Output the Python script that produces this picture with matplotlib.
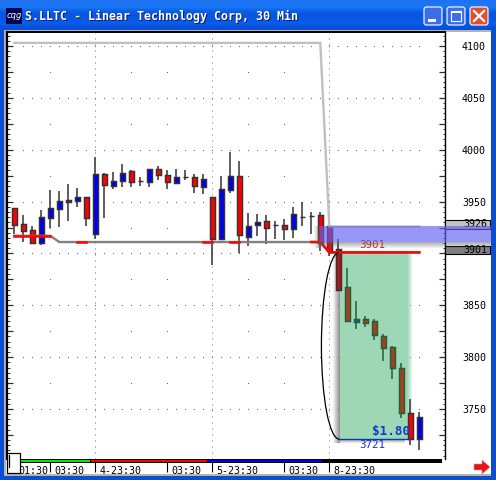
# -*- coding: utf-8 -*-
# S.LLTC 30 min candles inside an old trading platform window
import numpy as np
import matplotlib
matplotlib.use("Agg")
import matplotlib.pyplot as plt
from matplotlib.patches import Rectangle, FancyBboxPatch, Polygon, Arc

# candles
open_ = [3943.5, 3928, 3923, 3910, 3934, 3943, 3952, 3951, 3954, 3919, 3977, 3965, 3970, 3979, 3970, 3969,
         3981, 3976, 3968, 3974, 3974, 3964, 3954, 3914, 3961, 3975, 3916, 3927, 3931, 3927, 3927, 3924,
         3935, 3936, 3937, 3926, 3904, 3868, 3834, 3837, 3834.5, 3820, 3809.5, 3790, 3746, 3721]
close = [3927.7, 3922, 3910, 3935, 3943.5, 3951, 3950, 3954, 3934, 3977, 3966, 3969.5, 3978, 3969, 3970, 3981,
         3976, 3969, 3974, 3974, 3965, 3971.5, 3914, 3962, 3975, 3918, 3926, 3930, 3925, 3927, 3924, 3938,
         3935, 3936, 3910, 3902, 3865, 3835, 3837, 3833, 3821, 3808.5, 3790, 3746, 3721, 3742]
high = [3943.5, 3937, 3926, 3942, 3961, 3960, 3967, 3963, 3954, 3993, 3978, 3978.5, 3986, 3980, 3974, 3981,
        3984, 3980, 3981, 3980.5, 3977, 3977, 3954, 3975, 3998, 3989, 3939, 3938, 3937, 3931, 3933, 3945,
        3950, 3940, 3940, 3926, 3914, 3886, 3854, 3840, 3837, 3822, 3811, 3794, 3760, 3747]
low = [3918.7, 3911, 3909, 3908, 3925, 3925.5, 3931, 3945, 3926, 3914, 3934, 3962, 3964, 3964, 3965, 3964,
       3971, 3962, 3968, 3971, 3958, 3957, 3889, 3914, 3958.5, 3900, 3907, 3917, 3909, 3914, 3913, 3915,
       3926, 3919, 3902, 3897.5, 3865, 3834, 3827, 3829, 3816.5, 3796.5, 3779, 3741, 3715, 3710]

# step lines above and below the price
upper_line = [4103] * 35 + [3926] * 11
lower_line = [3917] * 5 + [3911] * 30 + [3901] * 11
red_stretches = [(0, 4), (7, 8), (21, 22), (24, 25), (33, 45)]

# axis labels
price_ticks = [3750, 3800, 3850, 3950, 4000, 4050, 4100]
dotted_rows = [3750, 3800, 3850, 3900, 3950, 4000, 4050, 4100]
time_ticks = [0, 4, 9, 17, 22, 30, 35]
time_labels = ["01:30", "03:30", "4-23:30", "03:30", "5-23:30", "03:30", "8-23:30"]
session_edges = [0.63, 8.5, 21.5, 34.3, 47.5]
session_colors = ["#00ee00", "#ff0000", "#0000ee", "#000000"]
sparse_dots = [4, 13, 17, 26, 30]

# levels of the trade box
box_top = 3901
box_bottom = 3721
band_top = 3926
band_bottom = 3911
profit_text = "$1.80"

mono = "DejaVu Sans Mono"
px = 1 / 9.0  # one pixel in candle units

fig = plt.figure(figsize=(4.96, 4.80), dpi=100, facecolor="#0a4ed6")


def pixel_axes(zorder):
    a = fig.add_axes([0, 0, 1, 1], zorder=zorder)
    a.set_xlim(0, 496)
    a.set_ylim(480, 0)
    a.axis("off")
    a.patch.set_alpha(0)
    return a


# window behind the chart
back = pixel_axes(0)
grad = np.array([[0.12, 0.45, 0.95], [0.10, 0.48, 0.97], [0.05, 0.38, 0.90], [0.03, 0.33, 0.88],
                 [0.04, 0.35, 0.90], [0.04, 0.36, 0.92], [0.03, 0.31, 0.85]]).reshape(-1, 1, 3)
back.imshow(grad, extent=(0, 496, 30, 0), aspect="auto", interpolation="bilinear")
back.set_xlim(0, 496)
back.set_ylim(480, 0)
back.add_patch(Rectangle((4, 30), 487, 446, color="#b8b4a8", lw=0))
back.add_patch(Rectangle((6, 32), 485, 442, color="white", lw=0))

# icon and title
back.add_patch(Rectangle((6, 8), 16, 16, color="#000050", lw=0))
back.text(14, 15.5, "cqg", color="white", fontsize=6, style="italic", ha="center", va="center")
title = "S.LLTC - Linear Technology Corp, 30 Min"
back.text(26, 17.5, title, color="#08205c", fontsize=8.4, family=mono, weight="bold", va="center")
back.text(25, 16.5, title, color="white", fontsize=8.4, family=mono, weight="bold", va="center")

# window buttons
for x0, col in [(423, "#3a6eea"), (446, "#3a6eea"), (469, "#e0502c")]:
    back.add_patch(FancyBboxPatch((x0 + 1, 7), 18, 18, boxstyle="round,pad=0,rounding_size=2.5",
                                  fc=col, ec="white", lw=0.8))
back.add_patch(Rectangle((428, 19), 8, 3, color="white", lw=0))
back.add_patch(Rectangle((451, 11), 10, 10, fc="none", ec="white", lw=0.8))
back.add_patch(Rectangle((451, 11), 10, 2, color="white", lw=0))
back.plot([474, 484], [11, 21], color="white", lw=1.6)
back.plot([484, 474], [11, 21], color="white", lw=1.6)

# main chart, x is the candle number and y the price
ax = fig.add_axes([7 / 496, 1 - 459 / 480, 437.5 / 496, 427 / 480], zorder=1)
ax.set_xlim(-0.81, 47.8)
ax.set_ylim(3701.8, 4113.5)
x = np.arange(len(open_))

# dotted grid
for t in [9, 22, 35]:
    ax.axvline(t, color="#707070", lw=0.72, ls=(0, (1, 5)), zorder=1)
for p in dotted_rows:
    ax.plot(x[1:], [p] * (len(x) - 1), ls="none", marker="s", ms=0.8, mew=0, color="#707070", zorder=1)
for p in [3775, 3825, 3875, 3925, 3975, 4025, 4075]:
    ax.plot(sparse_dots, [p] * len(sparse_dots), ls="none", marker="s", ms=0.8, mew=0, color="#707070", zorder=1)

# green box with soft edges
ax.add_patch(Rectangle((36.2, box_bottom), 7.4, box_top - box_bottom, color="#9ed7b6", lw=0, zorder=2))
for i in range(5):
    ax.add_patch(Rectangle((43.6 + i * px, box_bottom), px, box_top - box_bottom, color="#9ed7b6",
                           alpha=1 - i * 0.18, lw=0, zorder=2))
for i in range(7):
    ax.add_patch(Rectangle((35.4 + i * px, box_bottom - 4), px, box_top - box_bottom + 4, color="#707070",
                           alpha=0.08 + i * 0.11, lw=0, zorder=2))
for i in range(4):
    ax.add_patch(Rectangle((36.2, box_bottom - 1 - i), 7.2, 1, color="#707070", alpha=0.6 - i * 0.14,
                           lw=0, zorder=2))

# candles
for i in x:
    in_box = 37 <= i <= 43
    if close[i] == open_[i]:
        body = "#333333"
    elif close[i] > open_[i]:
        body = "#1a5a9a" if in_box else "#0000f0"
    elif in_box:
        body = "#a2401e"
    elif i == 36:
        body = "#b01414"
    else:
        body = "#ff0000"
    edge = "#20603c" if in_box else "#333333"
    ax.vlines(i, low[i], high[i], color=edge, lw=1.1, zorder=3)
    ax.bar(i, close[i] - open_[i], bottom=open_[i], width=0.5, color=body, edgecolor=edge, lw=1.05, zorder=4)

# upper and lower lines
ax.plot(x, upper_line, color="#c0c0c0", lw=1.7, zorder=5, solid_joinstyle="miter")
ax.plot(x, lower_line, color="#808080", lw=1.7, zorder=5, solid_joinstyle="miter")
for a, b in red_stretches:
    ax.plot(x[a:b + 1], lower_line[a:b + 1], color="#ff0000", lw=1.8, zorder=6, solid_joinstyle="miter")

# blue line, curve and texts of the trade box
ax.hlines(box_bottom, 36, 44, color="#0a3aa8", lw=1.0, zorder=6)
ax.add_patch(Arc((36.1, (box_top + box_bottom) / 2), 3.95, box_top - box_bottom, theta1=90, theta2=270,
                 color="black", lw=0.9, zorder=6))
ax.text(39.8, 3908, str(box_top), color="#d82020", fontsize=7.8, family=mono, ha="center", va="center", zorder=7)
ax.text(39.8, 3715, str(box_bottom), color="#1c30e0", fontsize=7.8, family=mono, ha="center", va="center", zorder=7)
ax.text(44.0, 3728, profit_text, color="#1040c8", fontsize=9.1, family=mono, weight="bold",
        ha="right", va="center", zorder=7)

# axis look
ax.set_yticks(range(3725, 4101, 25))
ax.set_yticklabels([str(v) if v in price_ticks else "" for v in range(3725, 4101, 25)], family=mono, fontsize=7.2)
ax.set_yticks(range(3705, 4111, 5), minor=True)
ax.tick_params(axis="y", which="major", direction="in", left=True, right=True, labelleft=False, labelright=True,
               length=4, width=0.9, pad=12.6, color="#303030")
ax.tick_params(axis="y", which="minor", direction="in", left=True, right=True, length=1.8, width=0.7, color="#303030")
ax.set_xticks(time_ticks)
ax.tick_params(axis="x", direction="out", length=9.4, width=0.8, labelbottom=False, color="black")
for t, lab in zip(time_ticks, time_labels):
    ax.annotate(lab, (t, 0), xycoords=("data", "axes fraction"), xytext=(3, -9), textcoords="offset points",
                family=mono, fontsize=7.2, ha="left", va="center", annotation_clip=False)
ax.spines["bottom"].set_visible(False)
ax.spines["left"].set_linewidth(1.6)
ax.spines["top"].set_linewidth(1.4)
ax.spines["right"].set_linewidth(1.0)

# session strip under the chart
strip = ax.get_xaxis_transform()
for a, b, col in zip(session_edges[:-1], session_edges[1:], session_colors):
    ax.add_patch(Rectangle((a, -0.0087), b - a, 0.0087, fc="black", lw=0, transform=strip, clip_on=False, zorder=8))
    ax.add_patch(Rectangle((a, -0.0068), b - a - px, 0.0048, fc=col, lw=0, transform=strip, clip_on=False, zorder=9))

# price boxes on the right
right = ax.get_yaxis_transform()
for level, col in [(band_top, "#c4c4c4"), (box_top, "#808080")]:
    ax.add_patch(Rectangle((1.002, level - 2), 0.103, 8, fc=col, ec="black", lw=0.8, transform=right,
                           clip_on=False, zorder=8))
    ax.text(1.043, level + 2, str(level), family=mono, fontsize=7.2, va="center", transform=right, zorder=9)

# blue band with its shadow, runs over the price boxes
for i in range(6):
    ax.add_patch(Rectangle((34 - 6 * px + i * px, band_bottom - 6), px, band_top - band_bottom + 6,
                           color="#606060", alpha=0.06 + i * 0.09, lw=0, clip_on=False, zorder=9))
    ax.add_patch(Rectangle((34, band_bottom - 1 - i), 18.97, 1, color="#606060", alpha=0.5 - i * 0.08, lw=0,
                           clip_on=False, zorder=9))
ax.add_patch(Rectangle((34, band_bottom), 18.97, band_top - band_bottom, color="#6060f0", alpha=0.65, lw=0,
                       clip_on=False, zorder=10))

# small bits on top of everything
front = pixel_axes(5)
front.add_patch(Rectangle((7, 453), 13, 20, fc="white", ec="black", lw=0.9))
front.plot([8.5, 8.5], [455, 467], color="black", lw=0.9)
front.add_patch(Polygon([(474, 464), (482, 464), (482, 460), (490, 467), (482, 474), (482, 470), (474, 470)],
                        closed=True, fc="#ee1010", ec="#a8a8a8", lw=0.4))

fig.savefig("out.png", dpi=100, facecolor=fig.get_facecolor())
